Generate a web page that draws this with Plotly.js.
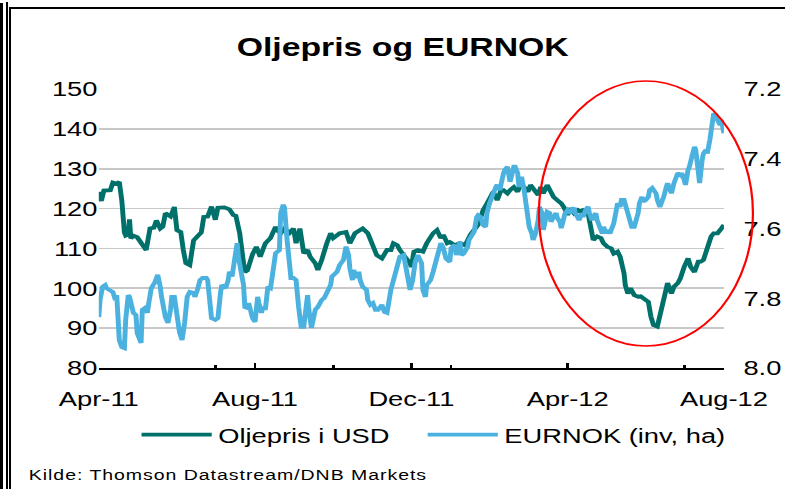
<!DOCTYPE html>
<html>
<head>
<meta charset="utf-8">
<script src="https://cdn.plot.ly/plotly-3.0.1.min.js"></script>
<style>
  html, body { margin: 0; padding: 0; background: #fff; }
  body { width: 785px; height: 489px; overflow: hidden; position: relative; }
  #chart { position: absolute; left: 0; top: 0; width: 604px; height: 489px;
           transform: scaleX(1.2997); transform-origin: 0 0; }
  .fr { position: absolute; background: #000; }
  text.annotation-text { letter-spacing: 0.75px; }
</style>
</head>
<body>
<div class="fr" style="left:0;top:3px;width:3px;height:486px"></div>
<div class="fr" style="left:6px;top:2px;width:1.5px;height:487px"></div>
<div class="fr" style="left:9px;top:7px;width:1.5px;height:482px"></div>
<div class="fr" style="left:9px;top:7px;width:776px;height:1.5px"></div>
<div id="chart"></div>
<script>
// ---- data ----
const oilDates = [
  '2011-04-01','2011-04-03','2011-04-05','2011-04-10','2011-04-12','2011-04-15','2011-04-17','2011-04-19','2011-04-21','2011-04-22','2011-04-24','2011-04-25','2011-04-26','2011-04-28',
  '2011-05-01','2011-05-03','2011-05-06','2011-05-08','2011-05-11','2011-05-14','2011-05-16','2011-05-19','2011-05-21','2011-05-23','2011-05-27','2011-05-30',
  '2011-06-01','2011-06-04','2011-06-06','2011-06-08','2011-06-11','2011-06-14','2011-06-17','2011-06-20','2011-06-22','2011-06-25','2011-06-28',
  '2011-07-01','2011-07-03','2011-07-08','2011-07-12','2011-07-15','2011-07-17','2011-07-20','2011-07-23','2011-07-24','2011-07-26','2011-07-28','2011-07-30',
  '2011-08-02','2011-08-05','2011-08-09','2011-08-13','2011-08-17','2011-08-18','2011-08-21','2011-08-24','2011-08-28','2011-08-31',
  '2011-09-02','2011-09-05','2011-09-08','2011-09-11','2011-09-13','2011-09-17','2011-09-19','2011-09-22','2011-09-26','2011-09-29',
  '2011-10-01','2011-10-06','2011-10-11','2011-10-14','2011-10-18','2011-10-24','2011-10-28','2011-10-31',
  '2011-11-04','2011-11-08','2011-11-12','2011-11-15','2011-11-17','2011-11-20','2011-11-22','2011-11-26','2011-11-30',
  '2011-12-01','2011-12-03','2011-12-06','2011-12-10','2011-12-13','2011-12-18','2011-12-21','2011-12-24','2011-12-26','2011-12-29','2011-12-31',
  '2012-01-04','2012-01-08','2012-01-12','2012-01-16','2012-01-18','2012-01-22','2012-01-24','2012-01-26','2012-01-29',
  '2012-02-01','2012-02-03','2012-02-06','2012-02-09','2012-02-11','2012-02-14','2012-02-16','2012-02-19','2012-02-22','2012-02-24','2012-02-27',
  '2012-03-01','2012-03-03','2012-03-05','2012-03-09','2012-03-11','2012-03-13','2012-03-16','2012-03-19','2012-03-21','2012-03-24','2012-03-27','2012-03-29',
  '2012-04-01','2012-04-03','2012-04-06','2012-04-09','2012-04-11','2012-04-13','2012-04-17','2012-04-18','2012-04-20','2012-04-21','2012-04-24','2012-04-27','2012-04-29',
  '2012-05-02','2012-05-05','2012-05-07','2012-05-10','2012-05-12','2012-05-15','2012-05-16','2012-05-18','2012-05-20','2012-05-23','2012-05-26','2012-05-28','2012-05-30',
  '2012-06-03','2012-06-05','2012-06-07','2012-06-10','2012-06-13','2012-06-15','2012-06-18','2012-06-21','2012-06-23','2012-06-26','2012-06-28',
  '2012-07-01','2012-07-04','2012-07-06','2012-07-09','2012-07-12','2012-07-14','2012-07-16','2012-07-19','2012-07-22','2012-07-24','2012-07-27','2012-07-30',
  '2012-08-01'
];
const oilValues = [
  124.2,121.9,124.5,124.6,126.5,126.2,126.7,122,114,113.2,113.5,117.3,112.5,113.2,
  112.8,112,110.4,109.6,115,115.2,117,115,115.5,118.8,118,120.4,
  114.6,114.1,109.6,106.3,105.8,112,113,114,117.9,118,120.5,
  117.2,120.2,120.3,119.8,118.4,118.2,113.8,106.3,104.1,104.5,107,108.5,
  110.4,107.9,111.3,112.6,115.4,114.6,113.8,115,113.9,115,
  111.3,115,108.8,109.6,107.9,106.3,104.6,107.1,111.3,113.8,
  112.6,113.8,114.1,111.3,113.8,115,113.8,111.3,
  108.3,107.5,109.6,109.6,111.3,110.8,109.6,107.9,106.3,
  105.3,109.2,109.6,109.2,111.3,113.8,114.6,112.6,113.4,111.3,111.6,
  110.8,111.3,110.8,113.4,114.1,115.9,117.6,119.6,121.3,
  122.9,124.2,122.1,124.6,124.6,123.8,124.6,125.4,124.2,125.9,125.4,
  124.2,125.9,125,123.4,125.4,123.8,125.9,124.2,122.9,122.1,121.3,120.4,
  118.4,120.1,118.8,119.6,119.2,119.6,118.8,117,113,112.1,113,112.6,111.3,
  110.4,110,108.7,109.2,107.9,103.8,100.8,98.7,100,98.3,97.9,98,97.5,
  96.6,92.9,90.8,90.4,94.6,96.3,101.3,98.7,100.4,101.3,102.5,
  105.4,107.5,105.4,104.1,106.7,106.7,107.1,110,113,113.8,113.8,115,
  115.9
];
const nokDates = [
  '2011-04-01','2011-04-02','2011-04-04','2011-04-06','2011-04-07','2011-04-10','2011-04-12','2011-04-14','2011-04-15','2011-04-16','2011-04-17','2011-04-19','2011-04-21','2011-04-22','2011-04-24','2011-04-25','2011-04-27','2011-04-28','2011-04-30',
  '2011-05-01','2011-05-04','2011-05-05','2011-05-07','2011-05-09','2011-05-10','2011-05-12','2011-05-15','2011-05-17','2011-05-19','2011-05-20','2011-05-23','2011-05-25','2011-05-27','2011-05-28','2011-05-30',
  '2011-06-01','2011-06-03','2011-06-05','2011-06-07','2011-06-09','2011-06-11','2011-06-14','2011-06-15','2011-06-17','2011-06-19','2011-06-21','2011-06-24','2011-06-25','2011-06-27','2011-06-28',
  '2011-07-01','2011-07-03','2011-07-05','2011-07-06','2011-07-09','2011-07-11','2011-07-12','2011-07-14','2011-07-16','2011-07-18','2011-07-19','2011-07-21','2011-07-23','2011-07-24','2011-07-26','2011-07-27','2011-07-29','2011-07-30',
  '2011-08-01','2011-08-03','2011-08-04','2011-08-06','2011-08-07','2011-08-09','2011-08-11','2011-08-13','2011-08-14','2011-08-16','2011-08-17','2011-08-20','2011-08-21','2011-08-23','2011-08-24','2011-08-26','2011-08-28','2011-08-29','2011-08-31',
  '2011-09-02','2011-09-04','2011-09-06','2011-09-08','2011-09-09','2011-09-11','2011-09-12','2011-09-14','2011-09-15','2011-09-17','2011-09-19','2011-09-22','2011-09-24','2011-09-26','2011-09-29','2011-09-30',
  '2011-10-03','2011-10-04','2011-10-06','2011-10-09','2011-10-11','2011-10-13','2011-10-14','2011-10-16','2011-10-17','2011-10-19','2011-10-21','2011-10-22','2011-10-24','2011-10-27','2011-10-28','2011-10-30',
  '2011-11-01','2011-11-03','2011-11-05','2011-11-08','2011-11-10','2011-11-12','2011-11-15','2011-11-17','2011-11-20','2011-11-22','2011-11-25','2011-11-27','2011-11-29','2011-11-30',
  '2011-12-02','2011-12-04','2011-12-06','2011-12-09','2011-12-10','2011-12-12','2011-12-13','2011-12-16','2011-12-18','2011-12-21','2011-12-22','2011-12-24','2011-12-26','2011-12-28','2011-12-31',
  '2012-01-01','2012-01-04','2012-01-05','2012-01-08','2012-01-09','2012-01-11','2012-01-14','2012-01-15','2012-01-18','2012-01-19','2012-01-21','2012-01-22','2012-01-24','2012-01-26','2012-01-28','2012-01-29','2012-01-31',
  '2012-02-02','2012-02-03','2012-02-05','2012-02-06','2012-02-08','2012-02-09','2012-02-11','2012-02-12','2012-02-14','2012-02-16','2012-02-17','2012-02-19','2012-02-20','2012-02-22','2012-02-23','2012-02-25','2012-02-27','2012-02-28',
  '2012-03-01','2012-03-02','2012-03-04','2012-03-05','2012-03-07','2012-03-09','2012-03-10','2012-03-12','2012-03-13','2012-03-15','2012-03-16','2012-03-18','2012-03-19','2012-03-21','2012-03-23','2012-03-24','2012-03-26','2012-03-27','2012-03-29','2012-03-30',
  '2012-04-01','2012-04-03','2012-04-04','2012-04-06','2012-04-07','2012-04-09','2012-04-10','2012-04-12','2012-04-13','2012-04-15','2012-04-17','2012-04-18','2012-04-20','2012-04-21','2012-04-23','2012-04-24','2012-04-26','2012-04-28','2012-04-29',
  '2012-05-01','2012-05-02','2012-05-04','2012-05-05','2012-05-07','2012-05-09','2012-05-10','2012-05-12','2012-05-13','2012-05-15','2012-05-16','2012-05-18','2012-05-20','2012-05-21','2012-05-23','2012-05-24','2012-05-26','2012-05-27','2012-05-29','2012-05-30',
  '2012-06-01','2012-06-03','2012-06-04','2012-06-06','2012-06-07','2012-06-09','2012-06-10','2012-06-12','2012-06-14','2012-06-15','2012-06-17','2012-06-18','2012-06-20','2012-06-21','2012-06-23','2012-06-24','2012-06-26','2012-06-28','2012-06-29',
  '2012-07-01','2012-07-02','2012-07-04','2012-07-05','2012-07-07','2012-07-09','2012-07-10','2012-07-12','2012-07-13','2012-07-15','2012-07-16','2012-07-18','2012-07-19','2012-07-21','2012-07-23','2012-07-24','2012-07-26','2012-07-27','2012-07-29','2012-07-30',
  '2012-08-01'
];
const nokValues = [
  7.854,7.805,7.767,7.762,7.771,7.776,7.782,7.805,7.791,7.854,7.920,7.940,7.943,7.862,7.791,7.796,7.833,7.842,7.848,
  7.900,7.928,7.833,7.828,7.842,7.814,7.771,7.753,7.733,7.767,7.796,7.854,7.871,7.833,7.796,7.796,
  7.842,7.897,7.920,7.871,7.796,7.782,7.785,7.796,7.776,7.748,7.742,7.742,7.748,7.805,7.857,
  7.862,7.857,7.785,7.762,7.771,7.748,7.724,7.738,7.690,7.642,7.681,7.719,7.762,7.825,7.828,7.814,7.842,7.857,
  7.868,7.796,7.814,7.842,7.825,7.833,7.767,7.771,7.748,7.686,7.671,7.662,7.556,7.532,7.541,7.633,7.738,7.742,7.742,
  7.748,7.825,7.882,7.882,7.842,7.791,7.833,7.885,7.868,7.833,7.825,7.805,7.799,7.785,7.762,7.738,
  7.724,7.724,7.705,7.690,7.652,7.676,7.714,7.748,7.719,7.742,7.724,7.748,7.767,7.776,7.805,7.819,
  7.814,7.833,7.833,7.819,7.839,7.842,7.776,7.748,7.705,7.681,7.676,7.724,7.771,7.776,
  7.748,7.696,7.676,7.700,7.776,7.796,7.762,7.748,7.724,7.681,7.662,7.642,7.656,7.686,7.696,
  7.656,7.647,7.676,7.638,7.676,7.671,7.652,7.633,7.609,7.609,7.567,7.562,7.567,7.590,7.595,7.556,7.528,
  7.513,7.499,7.481,7.475,7.490,7.466,7.441,7.432,7.423,7.466,7.447,7.423,7.423,7.441,7.481,7.452,7.490,7.518,
  7.567,7.595,7.614,7.633,7.614,7.576,7.538,7.556,7.604,7.567,7.552,7.556,7.581,7.567,7.556,7.570,7.581,7.599,7.576,7.556,
  7.547,7.556,7.547,7.541,7.556,7.567,7.576,7.556,7.567,7.547,7.538,7.556,7.576,7.567,7.556,7.576,7.595,7.614,7.595,
  7.614,7.604,7.614,7.604,7.585,7.547,7.528,7.538,7.518,7.518,7.532,7.562,7.581,7.595,7.595,7.581,7.556,7.528,7.509,7.523,
  7.518,7.509,7.490,7.484,7.490,7.499,7.518,7.538,7.518,7.509,7.481,7.470,7.490,7.499,7.470,7.461,7.441,7.447,7.441,
  7.461,7.475,7.432,7.423,7.394,7.366,7.375,7.441,7.470,7.403,7.385,7.375,7.385,7.346,7.298,7.270,7.275,7.289,7.303,7.289,
  7.327
];
const seriesNames = ['Oljepris i USD', 'EURNOK (inv, ha)'];
const xTickVals = ['2011-04-01','2011-08-01','2011-12-01','2012-04-01','2012-08-01'];
const xTickText = ['Apr-11','Aug-11','Dec-11','Apr-12','Aug-12'];
const xMinorTickVals = ['2011-07-01','2011-10-01','2012-01-01','2012-07-01'];
const leftTicks = [80, 90, 100, 110, 120, 130, 140, 150];
const rightTicks = [7.2, 7.4, 7.6, 7.8, 8.0];
const rightTickText = ['7.2', '7.4', '7.6', '7.8', '8.0'];

const FONT = 'Liberation Sans, Arial, sans-serif';
const oilColor = '#00716A';
const nokColor = '#4BB2E0';

const traces = [
  { x: oilDates, y: oilValues, name: seriesNames[0], type: 'scatter', mode: 'lines',
    line: { color: oilColor, width: 3.8 }, xaxis: 'x', yaxis: 'y', legend: 'legend' },
  { x: nokDates, y: nokValues, name: seriesNames[1], type: 'scatter', mode: 'lines',
    line: { color: nokColor, width: 3.8 }, xaxis: 'x', yaxis: 'y2', legend: 'legend2' }
];

const legendStyle = { orientation: 'h', y: -0.24, xanchor: 'left', yanchor: 'middle',
  font: { family: FONT, size: 21, color: '#000' }, itemwidth: 54, bgcolor: 'rgba(0,0,0,0)' };

const layout = {
  width: 604, height: 489,
  margin: { l: 76.2, r: 47.1, t: 89, b: 121 },
  paper_bgcolor: 'rgba(0,0,0,0)', plot_bgcolor: 'rgba(0,0,0,0)',
  font: { family: FONT, size: 21, color: '#000' },
  title: { text: 'Oljepris og EURNOK', font: { family: FONT, size: 26, weight: 'bold', color: '#000' },
           xref: 'container', x: 0.513, xanchor: 'center', yref: 'container', y: 1 - 47 / 489, yanchor: 'middle' },
  showlegend: true,
  legend: Object.assign({}, legendStyle, { x: 0.058 }),
  legend2: Object.assign({}, legendStyle, { x: 0.5157 }),
  xaxis: {
    type: 'date', range: ['2011-04-01', '2012-08-01'],
    tickmode: 'array', tickvals: xTickVals, ticktext: xTickText,
    ticks: 'inside', ticklen: 5, tickwidth: 2, tickcolor: '#000',
    showline: true, linecolor: '#000', linewidth: 2, showgrid: false, zeroline: false,
    ticklabelstandoff: 11,
    minor: { tickmode: 'array', tickvals: xMinorTickVals, ticks: 'inside', ticklen: 3, tickwidth: 2, tickcolor: '#000', showgrid: false }
  },
  yaxis: {
    range: [80, 150], tickmode: 'array', tickvals: leftTicks,
    showgrid: true, gridcolor: '#C8C8C8', gridwidth: 1.8, zeroline: false, showline: false, ticks: '',
    ticklabelstandoff: 15.5
  },
  yaxis2: {
    overlaying: 'y', side: 'right', range: [8.0, 7.2], tickmode: 'array', tickvals: rightTicks, ticktext: rightTickText,
    showgrid: false, zeroline: false, showline: false, ticks: '', ticklabelstandoff: 14
  },
  shapes: [
    { type: 'circle', xref: 'paper', yref: 'paper', x0: 0.704, x1: 1.0464, y0: 0.0789, y1: 1.0287,
      line: { color: '#FF0000', width: 1.7 } }
  ],
  annotations: [
    { text: 'Kilde: Thomson Datastream/DNB Markets', xref: 'paper', yref: 'paper',
      x: -0.117, y: -0.383, xanchor: 'left', yanchor: 'middle', showarrow: false,
      font: { family: FONT, size: 15, color: '#000' } }
  ]
};

Plotly.newPlot('chart', traces, layout, { staticPlot: true, displayModeBar: false });
</script>
</body>
</html>
